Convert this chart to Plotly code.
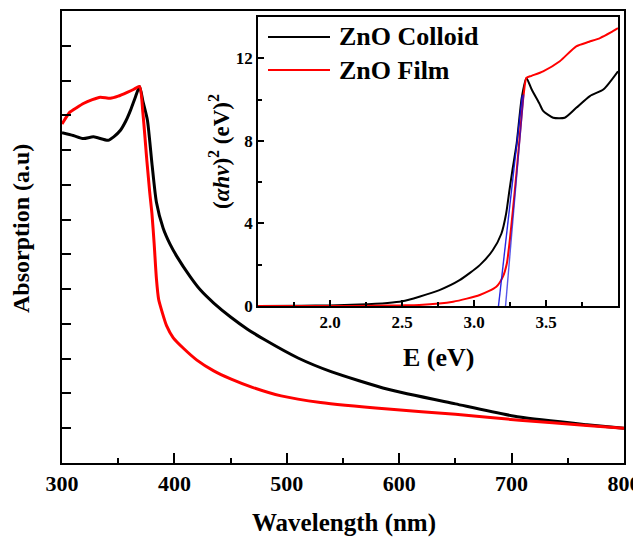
import plotly.graph_objects as go

# ---- main panel data (wavelength nm, absorption a.u.) ----
wl_colloid = [300, 310, 319, 328, 341, 346, 352, 357, 361, 365, 369, 372, 376, 380, 384, 390, 396, 402,
              414, 423, 435, 450, 465, 480, 510, 540, 590, 650, 707, 767, 800]
abs_colloid = [9.5, 9.42, 9.33, 9.38, 9.28, 9.38, 9.57, 9.85, 10.15, 10.5, 10.83, 10.4, 9.86, 8.62, 7.5,
               6.75, 6.3, 5.95, 5.36, 4.98, 4.6, 4.2, 3.85, 3.55, 3.02, 2.62, 2.12, 1.7, 1.32, 1.1, 1.0]

wl_film = [300, 307, 313, 319, 327, 334, 343, 350, 358, 364, 369, 372, 375.5, 378, 380, 382, 384, 386,
           389, 393, 399, 408, 420, 435, 450, 470, 495, 530, 590, 650, 707, 767, 800]
abs_film = [9.75, 10.09, 10.22, 10.34, 10.45, 10.52, 10.49, 10.55, 10.66, 10.75, 10.83, 10.06, 8.7, 7.8,
            7.18, 6.3, 5.3, 4.7, 4.35, 3.95, 3.6, 3.3, 2.96, 2.65, 2.42, 2.17, 1.93, 1.74, 1.55, 1.4,
            1.23, 1.08, 1.0]

# ---- inset data (E eV, (alpha h nu)^2) ----
E_colloid = [1.5, 1.8, 2.0, 2.2, 2.4, 2.5, 2.62, 2.76, 2.9, 3.04, 3.13, 3.19, 3.223, 3.246, 3.266, 3.296,
             3.331, 3.364, 3.40, 3.456, 3.48, 3.55, 3.63, 3.71, 3.805, 3.9, 4.0]
V_colloid = [0, 0.01, 0.03, 0.07, 0.15, 0.23, 0.45, 0.77, 1.25, 1.98, 2.7, 3.5, 4.47, 5.6, 6.55, 7.86,
             10.07, 11.05, 10.5, 9.78, 9.45, 9.12, 9.12, 9.6, 10.17, 10.5, 11.37]

E_film = [1.5, 2.0, 2.3, 2.5, 2.62, 2.855, 3.04, 3.155, 3.2, 3.228, 3.246, 3.27, 3.297, 3.32, 3.345,
          3.364, 3.40, 3.48, 3.596, 3.71, 3.8, 3.875, 3.95, 4.0]
V_film = [0, 0.0, 0.01, 0.03, 0.05, 0.21, 0.53, 0.93, 1.41, 2.06, 3.02, 4.63, 6.6, 8.4, 10.25, 11.05,
          11.15, 11.37, 11.86, 12.58, 12.8, 12.98, 13.25, 13.46]

fit_colloid_E = [3.17, 3.335]
fit_colloid_V = [0, 10.2]
fit_film_E = [3.219, 3.345]
fit_film_V = [0, 10.25]

main_xticks = [300, 400, 500, 600, 700, 800]
main_xminor = [350, 450, 550, 650, 750]
main_yticks = list(range(1, 13))
inset_xticks = [2.0, 2.5, 3.0, 3.5]
inset_xticklabels = ["2.0", "2.5", "3.0", "3.5"]
inset_xminor = [1.75, 2.25, 2.75, 3.25, 3.75]
inset_yticks = [0, 4, 8, 12]
inset_yminor = [2, 6, 10]

legend_names = ["ZnO Colloid", "ZnO Film"]

FONT = "Liberation Serif"
OFF = 8  # page body margin
W, H = 641 - OFF, 538 - OFF
# plot area in screen pixels
SL, SR, ST, SB = 62, 624, 11, 463
ML, MT = SL - OFF, ST - OFF
MR, MB = W - (SR - OFF), H - (SB - OFF)
PW, PH = SR - SL, SB - ST


def px(x):
    return (x - SL) / PW


def py(y):
    return (SB - y) / PH


fig = go.Figure()
fig.add_trace(go.Scatter(x=wl_colloid, y=abs_colloid, mode="lines",
                         line=dict(color="black", width=3, shape="spline", smoothing=0.6),
                         name=legend_names[0], showlegend=False))
fig.add_trace(go.Scatter(x=wl_film, y=abs_film, mode="lines",
                         line=dict(color="#ff0000", width=3, shape="spline", smoothing=0.6),
                         name=legend_names[1], showlegend=False))

fig.add_trace(go.Scatter(x=E_colloid, y=V_colloid, mode="lines",
                         line=dict(color="black", width=2, shape="spline", smoothing=0.6),
                         xaxis="x2", yaxis="y2", showlegend=False))
fig.add_trace(go.Scatter(x=E_film, y=V_film, mode="lines",
                         line=dict(color="#ff0000", width=2, shape="spline", smoothing=0.6),
                         xaxis="x2", yaxis="y2", showlegend=False))
fig.add_trace(go.Scatter(x=fit_colloid_E, y=fit_colloid_V, mode="lines",
                         line=dict(color="#1010e0", width=1.4), opacity=0.9,
                         xaxis="x2", yaxis="y2", showlegend=False))
fig.add_trace(go.Scatter(x=fit_film_E, y=fit_film_V, mode="lines",
                         line=dict(color="#1010e0", width=1.4), opacity=0.7,
                         xaxis="x2", yaxis="y2", showlegend=False))

tickfont_main = dict(family=FONT, size=22, color="black", weight="bold")
tickfont_inset = dict(family=FONT, size=17, color="black", weight="bold")

inset_x0, inset_x1 = px(258), px(618)
inset_y0, inset_y1 = py(306), py(17)

fig.update_layout(
    width=W, height=H,
    margin=dict(l=ML, r=MR, t=MT, b=MB, autoexpand=False),
    paper_bgcolor="white", plot_bgcolor="white",
    showlegend=False,
    xaxis=dict(domain=[0, 1], range=[300, 800], tickvals=main_xticks, ticks="inside", ticklen=10,
               tickwidth=2, tickcolor="black", showline=True, linewidth=2, linecolor="black",
               mirror=True, showgrid=False, zeroline=False, tickfont=tickfont_main,
               minor=dict(tickvals=main_xminor, ticks="inside", ticklen=5, tickwidth=2,
                          tickcolor="black", showgrid=False)),
    yaxis=dict(domain=[0, 1], range=[0, 13], tickvals=main_yticks, ticks="inside", ticklen=9,
               tickwidth=2, tickcolor="black", showline=True, linewidth=2, linecolor="black",
               mirror=True, showgrid=False, zeroline=False, showticklabels=False),
    xaxis2=dict(domain=[inset_x0, inset_x1], anchor="y2", range=[1.5, 4.0], tickvals=inset_xticks,
                ticktext=inset_xticklabels, ticks="inside", ticklen=6, tickwidth=1.5,
                tickcolor="black", showline=True, linewidth=1.8, linecolor="black", mirror=True,
                showgrid=False, zeroline=False, tickfont=tickfont_inset,
                minor=dict(tickvals=inset_xminor, ticks="inside", ticklen=4, tickwidth=1.5,
                           tickcolor="black", showgrid=False)),
    yaxis2=dict(domain=[inset_y0, inset_y1], anchor="x2", range=[0, 14], tickvals=inset_yticks,
                ticks="inside", ticklen=6, tickwidth=1.5, tickcolor="black", showline=True,
                linewidth=1.8, linecolor="black", mirror=True, showgrid=False, zeroline=False,
                tickfont=tickfont_inset,
                minor=dict(tickvals=inset_yminor, ticks="inside", ticklen=4, tickwidth=1.5,
                           tickcolor="black", showgrid=False)),
)

ann = []
# main axis titles
ann.append(dict(text="Wavelength (nm)", x=px(344), y=py(523), xref="paper", yref="paper",
                showarrow=False, xanchor="center", yanchor="middle",
                font=dict(family=FONT, size=25, color="black", weight="bold")))
ann.append(dict(text="Absorption (a.u)", x=px(21), y=py(229), xref="paper", yref="paper",
                showarrow=False, xanchor="center", yanchor="middle", textangle=-90,
                font=dict(family=FONT, size=24, color="black", weight="bold")))
# inset axis titles
ann.append(dict(text="E (eV)", x=px(438), y=py(357), xref="paper", yref="paper",
                showarrow=False, xanchor="center", yanchor="middle",
                font=dict(family=FONT, size=26, color="black", weight="bold")))
ann.append(dict(text="(<i>αhν</i>)<sup>2</sup> (eV)<sup>2</sup>", x=px(219), y=py(152), xref="paper",
                yref="paper", showarrow=False, xanchor="center", yanchor="middle", textangle=-90,
                font=dict(family=FONT, size=23, color="black", weight="bold")))

# manual legend inside inset
shapes = []
legend_colors = ["black", "#ff0000"]
legend_rows = [37, 70]
for name, col, yy in zip(legend_names, legend_colors, legend_rows):
    shapes.append(dict(type="line", xref="paper", yref="paper", x0=px(268), x1=px(330),
                       y0=py(yy), y1=py(yy), line=dict(color=col, width=2)))
    ann.append(dict(text=name, x=px(337), y=py(yy), xref="paper", yref="paper", showarrow=False,
                    xanchor="left", yanchor="middle",
                    font=dict(family=FONT, size=26, color="black", weight="bold")))

fig.update_layout(annotations=ann, shapes=shapes)
fig.write_html("out.html")
